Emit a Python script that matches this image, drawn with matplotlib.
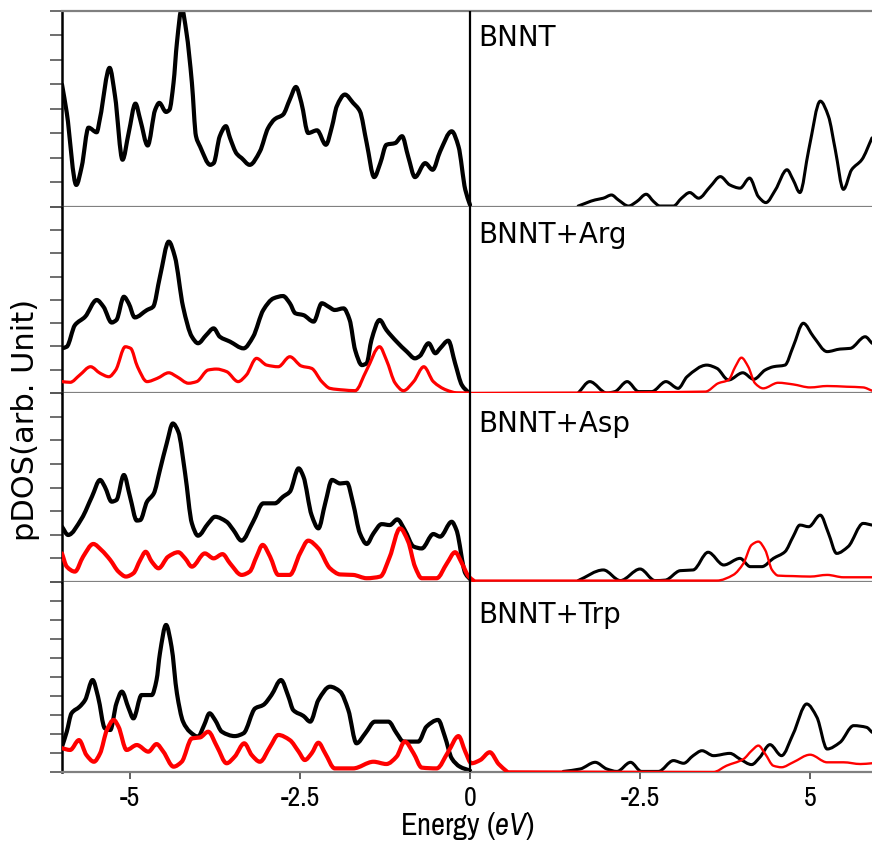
import matplotlib.pyplot as plt
from matplotlib import font_manager
from matplotlib.path import Path
from matplotlib.patches import PathPatch

# energies (eV) and pDOS values read per panel; vb = below Fermi level, cb = above
bnnt_vb_e = [-6.0, -5.93, -5.79, -5.71, -5.61, -5.49, -5.44, -5.30, -5.22, -5.11, -5.02, -4.92, -4.85,
             -4.74, -4.63, -4.57, -4.47, -4.42, -4.36, -4.31, -4.24, -4.17, -4.09, -4.03, -3.97, -3.82,
             -3.77, -3.68, -3.59, -3.53, -3.43, -3.36, -3.24, -3.09, -2.97, -2.87, -2.75, -2.65, -2.56,
             -2.48, -2.38, -2.25, -2.12, -2.03, -1.96, -1.84, -1.72, -1.62, -1.52, -1.41, -1.32, -1.23,
             -1.10, -1.00, -0.91, -0.81, -0.66, -0.55, -0.44, -0.27, -0.17, -0.07, 0.0]
bnnt_vb = [5.0, 3.85, 0.9, 1.65, 3.24, 3.05, 3.64, 5.68, 4.52, 1.93, 3.02, 4.22, 3.57,
           2.51, 3.97, 4.25, 3.88, 3.97, 5.07, 6.71, 8.1, 7.12, 5.07, 2.89, 2.47, 1.72,
           1.79, 2.89, 3.30, 2.82, 2.17, 2.0, 1.72, 2.27, 3.22, 3.59, 3.77, 4.39, 4.9,
           4.25, 3.02, 3.13, 2.54, 3.29, 4.11, 4.59, 4.25, 3.91, 2.61, 1.22, 1.79, 2.54,
           2.61, 2.89, 2.06, 1.22, 1.79, 1.52, 2.27, 3.09, 2.47, 0.70, 0.08]
bnnt_cb_e = [1.59, 1.84, 1.96, 2.08, 2.18, 2.33, 2.45, 2.59, 2.70, 2.79, 2.99, 3.11, 3.23, 3.36,
             3.53, 3.68, 3.82, 3.97, 4.11, 4.24, 4.35, 4.49, 4.66, 4.75, 4.85, 4.98, 5.15, 5.27,
             5.37, 5.49, 5.61, 5.76, 5.91]
bnnt_cb = [0.04, 0.29, 0.36, 0.49, 0.29, 0.04, 0.22, 0.52, 0.22, 0.04, 0.04, 0.36, 0.59, 0.36,
           0.83, 1.24, 0.90, 0.77, 1.18, 0.42, 0.18, 0.70, 1.52, 1.11, 0.59, 2.34, 4.32, 3.70,
           2.34, 0.72, 1.52, 1.93, 2.82]

arg_vb_e = [-6.0, -5.93, -5.81, -5.66, -5.49, -5.39, -5.27, -5.20, -5.09, -5.02, -4.93, -4.75, -4.66,
            -4.56, -4.43, -4.34, -4.22, -4.09, -4.0, -3.88, -3.77, -3.68, -3.53, -3.33, -3.19, -3.04,
            -2.89, -2.75, -2.65, -2.57, -2.45, -2.30, -2.18, -2.08, -1.99, -1.86, -1.77, -1.69, -1.59,
            -1.52, -1.45, -1.33, -1.23, -1.08, -0.93, -0.81, -0.74, -0.61, -0.51, -0.44, -0.32, -0.22,
            -0.12, -0.02]
arg_vb = [1.92, 1.99, 2.92, 3.28, 4.0, 3.71, 3.03, 3.14, 4.14, 3.86, 3.25, 3.57, 3.71,
          5.0, 6.51, 5.86, 3.71, 2.42, 2.14, 2.49, 2.78, 2.42, 2.21, 1.92, 2.42, 3.57,
          4.07, 4.17, 3.86, 3.43, 3.35, 3.07, 3.86, 3.71, 3.57, 3.64, 3.14, 1.85, 1.20,
          1.28, 2.28, 3.14, 2.71, 2.21, 1.78, 1.49, 1.59, 2.14, 1.71, 1.92, 2.25, 1.28,
          0.34, 0.01]
arg_vb_mol_e = [-6.0, -5.88, -5.74, -5.58, -5.44, -5.31, -5.21, -5.07, -4.99, -4.89, -4.75, -4.60,
                -4.43, -4.31, -4.14, -4.02, -3.85, -3.73, -3.58, -3.41, -3.29, -3.14, -2.99, -2.82,
                -2.65, -2.48, -2.33, -2.18, -2.06, -1.86, -1.69, -1.52, -1.33, -1.23, -1.10, -0.98,
                -0.83, -0.68, -0.54, -0.35, -0.2, 0.0]
arg_vb_mol = [0.49, 0.46, 0.77, 1.13, 0.85, 0.70, 0.99, 1.99, 1.92, 1.13, 0.49, 0.63,
              0.87, 0.70, 0.42, 0.49, 0.99, 1.03, 0.92, 0.49, 0.77, 1.49, 1.20, 1.13,
              1.56, 1.16, 1.06, 0.49, 0.20, 0.13, 0.10, 0.99, 1.99, 1.42, 0.42, 0.10,
              0.49, 1.13, 0.49, 0.13, 0.01, 0.0]
arg_cb_e = [1.59, 1.76, 2.01, 2.13, 2.31, 2.48, 2.67, 2.88, 3.06, 3.19, 3.48, 3.63, 3.80, 4.01,
            4.17, 4.34, 4.46, 4.63, 4.75, 4.90, 5.05, 5.25, 5.44, 5.59, 5.81, 5.91]
arg_cb = [0.0, 0.49, 0.0, 0.06, 0.49, 0.06, 0.06, 0.49, 0.2, 0.70, 1.20, 1.06, 0.56, 0.87,
          0.59, 0.99, 1.13, 1.20, 1.99, 3.0, 2.42, 1.78, 1.89, 1.92, 2.42, 2.14]
arg_cb_mol_e = [0.0, 3.46, 3.65, 3.80, 3.90, 3.99, 4.09, 4.19, 4.31, 4.53, 4.75, 5.0, 5.25, 5.54,
                5.78, 5.91]
arg_cb_mol = [0.0, 0.06, 0.42, 0.56, 1.13, 1.52, 1.13, 0.42, 0.20, 0.44, 0.37, 0.24, 0.30, 0.27,
              0.24, 0.10]

asp_vb_e = [-6.0, -5.91, -5.71, -5.56, -5.44, -5.37, -5.27, -5.20, -5.09, -5.0, -4.90, -4.85, -4.75,
            -4.65, -4.56, -4.46, -4.37, -4.29, -4.19, -4.09, -4.0, -3.85, -3.75, -3.58, -3.48, -3.36,
            -3.19, -3.04, -2.87, -2.75, -2.65, -2.52, -2.45, -2.33, -2.23, -2.13, -2.03, -1.91, -1.81,
            -1.72, -1.62, -1.52, -1.42, -1.30, -1.18, -1.07, -0.96, -0.83, -0.71, -0.54, -0.44, -0.27,
            -0.20, -0.07, 0.02]
asp_vb = [2.34, 1.99, 2.69, 3.61, 4.32, 4.03, 3.40, 3.47, 4.53, 3.61, 2.60, 2.62, 3.40,
          3.75, 4.74, 5.87, 6.71, 6.36, 4.60, 2.48, 1.96, 2.48, 2.76, 2.55, 2.20, 1.75,
          2.55, 3.33, 3.33, 3.61, 3.82, 4.81, 4.46, 2.83, 2.27, 3.33, 4.32, 4.17, 4.20,
          3.33, 2.06, 1.61, 2.06, 2.45, 2.41, 2.65, 2.20, 1.50, 1.42, 2.03, 1.92, 2.55,
          2.20, 0.37, 0.06]
asp_vb_mol_e = [-6.0, -5.93, -5.81, -5.69, -5.54, -5.42, -5.29, -5.17, -5.06, -4.95, -4.85, -4.77,
                -4.68, -4.58, -4.44, -4.29, -4.19, -4.09, -3.90, -3.77, -3.64, -3.53, -3.36, -3.24,
                -3.14, -3.05, -2.94, -2.82, -2.65, -2.50, -2.38, -2.23, -2.06, -1.91, -1.72, -1.52,
                -1.32, -1.18, -1.03, -0.91, -0.81, -0.71, -0.49, -0.34, -0.22, -0.12, -0.02, 0.05]
asp_vb_mol = [1.21, 0.65, 0.44, 1.07, 1.61, 1.35, 0.93, 0.44, 0.23, 0.37, 0.93, 1.28,
              0.86, 0.58, 1.07, 1.26, 1.0, 0.65, 1.21, 1.0, 1.18, 0.79, 0.30, 0.44,
              1.07, 1.57, 1.07, 0.30, 0.30, 1.21, 1.75, 1.42, 0.58, 0.32, 0.30, 0.16,
              0.23, 1.07, 2.27, 1.71, 0.65, 0.16, 0.16, 0.79, 1.26, 0.79, 0.23, 0.06]
asp_cb_e = [1.59, 1.96, 2.21, 2.50, 2.72, 2.87, 3.09, 3.28, 3.50, 3.73, 3.97, 4.12, 4.29, 4.46,
            4.63, 4.75, 4.85, 4.98, 5.15, 5.27, 5.39, 5.56, 5.78, 5.91]
asp_cb = [0.06, 0.51, 0.06, 0.55, 0.06, 0.08, 0.48, 0.51, 1.26, 0.72, 1.0, 0.65, 0.65, 1.0,
          1.28, 1.92, 2.41, 2.34, 2.83, 2.06, 1.21, 1.50, 2.48, 2.41]
asp_cb_mol_e = [0.05, 3.63, 3.87, 4.02, 4.14, 4.24, 4.34, 4.44, 4.53, 4.75, 5.0, 5.25, 5.49, 5.91]
asp_cb_mol = [0.06, 0.06, 0.30, 0.79, 1.57, 1.71, 1.35, 0.51, 0.27, 0.25, 0.23, 0.30, 0.20, 0.20]

trp_vb_e = [-6.0, -5.93, -5.86, -5.74, -5.66, -5.55, -5.47, -5.37, -5.29, -5.20, -5.12, -5.02, -4.95,
            -4.83, -4.68, -4.61, -4.56, -4.47, -4.39, -4.31, -4.22, -4.12, -4.0, -3.91, -3.83, -3.75,
            -3.65, -3.46, -3.33, -3.16, -3.04, -2.92, -2.78, -2.67, -2.60, -2.45, -2.35, -2.23, -2.06,
            -1.91, -1.79, -1.67, -1.54, -1.40, -1.20, -1.08, -0.98, -0.76, -0.64, -0.47, -0.37, -0.27,
            -0.15, 0.0]
trp_vb = [1.33, 2.12, 3.09, 3.44, 3.79, 4.84, 3.96, 2.30, 2.21, 3.61, 4.23, 3.35, 2.82,
          4.05, 4.05, 4.84, 6.25, 7.74, 6.60, 4.14, 2.65, 2.12, 1.86, 2.47, 3.09, 2.74,
          2.12, 1.89, 2.04, 3.35, 3.53, 4.05, 4.84, 3.96, 3.26, 2.95, 2.65, 3.79, 4.49,
          4.23, 3.26, 1.51, 2.04, 2.65, 2.65, 2.04, 1.60, 1.60, 2.39, 2.74, 1.86, 0.72,
          0.28, 0.07]
trp_vb_mol_e = [-6.0, -5.88, -5.75, -5.64, -5.53, -5.44, -5.34, -5.24, -5.17, -5.05, -4.90, -4.73,
                -4.61, -4.51, -4.36, -4.24, -4.09, -3.97, -3.85, -3.72, -3.58, -3.46, -3.32, -3.21,
                -3.09, -2.94, -2.82, -2.65, -2.52, -2.43, -2.33, -2.23, -2.13, -1.99, -1.72, -1.42,
                -1.23, -1.08, -0.96, -0.83, -0.71, -0.49, -0.32, -0.17, -0.07, 0.02, 0.15, 0.29,
                0.42, 0.54]
trp_vb_mol = [1.25, 1.16, 1.68, 0.89, 0.54, 0.98, 2.21, 2.74, 2.39, 1.16, 1.42, 1.07,
              1.47, 1.07, 0.28, 0.54, 1.77, 1.82, 2.12, 1.33, 0.46, 0.81, 1.51, 0.89,
              0.54, 1.33, 1.95, 1.68, 1.07, 0.63, 0.98, 1.54, 0.98, 0.19, 0.19, 0.54,
              0.42, 0.81, 1.60, 0.98, 0.23, 0.19, 1.07, 1.89, 1.07, 0.46, 0.63, 1.04,
              0.42, 0.03]
trp_cb_e = [1.37, 1.62, 1.84, 2.01, 2.16, 2.36, 2.52, 2.77, 2.99, 3.14, 3.28, 3.41, 3.58, 3.82,
            3.97, 4.14, 4.26, 4.41, 4.58, 4.75, 4.95, 5.10, 5.25, 5.44, 5.64, 5.83, 5.91]
trp_cb = [0.03, 0.16, 0.51, 0.16, 0.03, 0.51, 0.03, 0.03, 0.6, 0.46, 0.86, 1.12, 0.86, 0.98,
          0.68, 0.39, 0.77, 1.44, 0.86, 2.0, 3.58, 2.88, 1.21, 1.56, 2.44, 2.35, 2.09]
trp_cb_mol_e = [0.54, 3.58, 3.77, 4.02, 4.14, 4.24, 4.34, 4.46, 4.58, 4.75, 5.0, 5.25, 5.49, 5.74,
                5.91]
trp_cb_mol = [0.03, 0.0, 0.33, 0.68, 1.12, 1.39, 0.95, 0.33, 0.25, 0.51, 0.91, 0.51, 0.51, 0.42,
              0.46]

names = ['BNNT', 'BNNT+Arg', 'BNNT+Asp', 'BNNT+Trp']
ytops = [8, 8, 8, 10]
tick_pos = [-5, -2.5, 0, 2.5, 5]
tick_txt = ['-5', '-2.5', '0', '-2.5', '5']


def pick_narrow_font():
    # prefer a narrow/condensed sans face if the system has one
    for f in font_manager.fontManager.ttflist:
        if 'Narrow' in f.name or 'Condensed' in f.name:
            return f.name, 'normal'
    for f in font_manager.fontManager.ttflist:
        if f.name == 'DejaVu Sans' and 'condensed' in str(f.stretch):
            return 'DejaVu Sans', 'condensed'
    return 'Liberation Sans', 'normal'


tick_family, tick_stretch = pick_narrow_font()
plt.rcParams['mathtext.fontset'] = 'custom'
plt.rcParams['mathtext.rm'] = tick_family
plt.rcParams['mathtext.it'] = tick_family + ':italic'


def smooth_curve(ax, xs, ys, **kw):
    # monotone cubic (pchip-style tangents) drawn as Bezier segments, no overshoot
    n = len(xs)
    h = [xs[k + 1] - xs[k] for k in range(n - 1)]
    d = [(ys[k + 1] - ys[k]) / h[k] for k in range(n - 1)]
    m = [0.0] * n
    m[0], m[-1] = d[0], d[-1]
    for k in range(1, n - 1):
        if d[k - 1] * d[k] > 0:
            w1 = 2 * h[k] + h[k - 1]
            w2 = h[k] + 2 * h[k - 1]
            m[k] = (w1 + w2) / (w1 / d[k - 1] + w2 / d[k])
    verts = [(xs[0], ys[0])]
    codes = [Path.MOVETO]
    for k in range(n - 1):
        verts += [(xs[k] + h[k] / 3, ys[k] + m[k] * h[k] / 3),
                  (xs[k + 1] - h[k] / 3, ys[k + 1] - m[k + 1] * h[k] / 3),
                  (xs[k + 1], ys[k + 1])]
        codes += [Path.CURVE4] * 3
    ax.add_patch(PathPatch(Path(verts, codes), fill=False, capstyle='round',
                           joinstyle='round', **kw))


panels = [
    (bnnt_vb_e, bnnt_vb, bnnt_cb_e, bnnt_cb, None),
    (arg_vb_e, arg_vb, arg_cb_e, arg_cb, (arg_vb_mol_e, arg_vb_mol, arg_cb_mol_e, arg_cb_mol)),
    (asp_vb_e, asp_vb, asp_cb_e, asp_cb, (asp_vb_mol_e, asp_vb_mol, asp_cb_mol_e, asp_cb_mol)),
    (trp_vb_e, trp_vb, trp_cb_e, trp_cb, (trp_vb_mol_e, trp_vb_mol, trp_cb_mol_e, trp_cb_mol)),
]

W, H = 872, 855
fig = plt.figure(figsize=(W / 100, H / 100), dpi=100)
edges = [11, 207, 393, 582, 772]
left = 62
label_base = [0.823, 0.805, 0.795, 0.786]
vb_red_lw = [0, 2.3, 3.0, 3.0]

for i, (ve, v, ce, c, mol) in enumerate(panels):
    top, bot = edges[i], edges[i + 1]
    ax = fig.add_axes([left / W, 1 - bot / H, 1 - left / W, (bot - top) / H])
    ax.set_xlim(-6, 5.91)
    ax.set_ylim(0, ytops[i])

    smooth_curve(ax, ve, v, edgecolor='black', lw=3.0, zorder=2)
    smooth_curve(ax, ce, c, edgecolor='black', lw=2.2, zorder=2)
    if mol is not None:
        me, m, mce, mc = mol
        smooth_curve(ax, me, m, edgecolor='#ff0000', lw=vb_red_lw[i], zorder=3)
        smooth_curve(ax, mce, mc, edgecolor='#ff0000', lw=1.7, zorder=3)

    ax.axvline(0, color='black', lw=1.6, zorder=4)

    for s in ['top', 'bottom']:
        ax.spines[s].set_color('#808080')
        ax.spines[s].set_linewidth(1.6)
    ax.spines['top'].set_visible(i == 0)
    ax.spines['right'].set_visible(False)
    ax.spines['left'].set_color('black')
    ax.spines['left'].set_linewidth(1.8)

    ax.set_yticks(range(ytops[i] + 1))
    ax.set_yticklabels([])
    ax.tick_params(axis='y', direction='out', length=9, width=1.2, color='#555555')

    if i < 3:
        ax.set_xticks([-3, 3])
        ax.set_xticklabels([])
        ax.tick_params(axis='x', direction='out', length=3, width=1.2, color='#444444')
    else:
        ax.set_xticks(tick_pos)
        ax.set_xticklabels(tick_txt, family=tick_family, stretch=tick_stretch, fontsize=20)
        ax.tick_params(axis='x', direction='out', length=5, width=1.2, color='#444444', pad=5)
        ax.set_xlabel(r'Energy $(eV)$', family=tick_family, stretch=tick_stretch,
                      fontsize=22, labelpad=-1)

    ax.text(0.12, label_base[i] * ytops[i], names[i], fontsize=20, va='baseline', ha='left',
            family='DejaVu Sans')

fig.text(25 / W, 1 - 420 / H, 'pDOS(arb. Unit)', rotation=90, fontsize=22,
         ha='center', va='center', family='DejaVu Sans')

fig.savefig('out.png', dpi=100)
